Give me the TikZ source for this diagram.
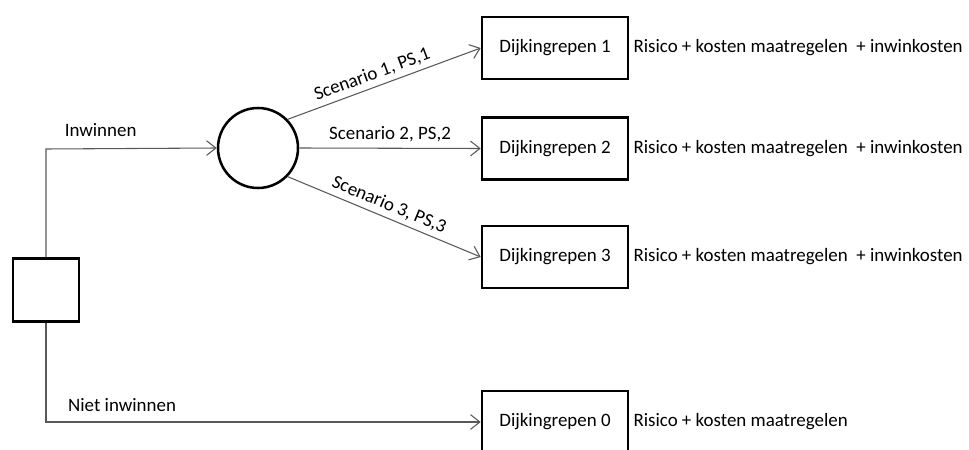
\documentclass[tikz,border=0pt]{standalone}
\usepackage{fontspec}
\setmainfont{Carlito}
\usepackage{xcolor}
\usepackage{tikz}
\usetikzlibrary{arrows.meta}
\usetikzlibrary{shapes}

\tikzset{
  beslis/.style = {draw, line width=1.9pt, minimum width=49.5pt, minimum height=47pt, inner sep=0pt},
  kans/.style = {draw, circle, line width=1.9pt, minimum size=60pt, inner sep=0pt},
  uitkomst/.style = {draw, line width=1.9pt, minimum width=109.5pt, minimum height=46.5pt, inner sep=0pt},
  tak/.style = {draw=black!65, line width=0.8pt, -{Straight Barb[length=7pt, width=11pt, line width=0.8pt]}},
  kosten/.style = {anchor=west, inner sep=0pt},
}

\begin{document}
\begin{tikzpicture}[x=0.75pt, y=-0.75pt, font=\fontsize{14.2}{17}\selectfont]
            \useasboundingbox (0, 0) rectangle (969, 449);
            \clip (0, 0) rectangle (969, 449);

            % beslissing en kansknoop
            \node[beslis] (keuze) at (46, 290) {};
            \node[kans] (kans) at (258, 148) {};

            % dijkingrepen
            \node[uitkomst] (ingreep1) at (555, 48) {Dijkingrepen 1};
            \node[uitkomst] (ingreep2) at (555, 148.5) {Dijkingrepen 2};
            \node[uitkomst] (ingreep3) at (555, 257) {Dijkingrepen 3};
            \node[uitkomst] (ingreep0) at (555, 422) {Dijkingrepen 0};

            \coordinate (hoekboven) at (46, 149);
            \coordinate (hoekonder) at (46, 422);

            \draw[tak] (keuze.north) -- (hoekboven)
                -- node[pos=0.32, above=5pt] {Inwinnen} (kans.west);
            \draw[tak] (keuze.south) -- (hoekonder)
                -- node[pos=0.175, above=4pt] {Niet inwinnen} (ingreep0.west);

            \draw[tak] (kans.44) -- node[sloped, above, pos=0.46] {Scenario 1, PS,1} (ingreep1.west);
            \draw[tak] (kans.east) -- node[above=1pt] {Scenario 2, PS,2} (ingreep2.west);
            \draw[tak] (kans.-44) -- node[sloped, above, pos=0.5] {Scenario 3, PS,3} (ingreep3.west);

            % kosten
            \node[kosten] (kosten1) at ([xshift=3pt]ingreep1.east) {Risico + kosten maatregelen\ \ + inwinkosten};
            \node[kosten] (kosten2) at ([xshift=3pt]ingreep2.east) {Risico + kosten maatregelen\ \ + inwinkosten};
            \node[kosten] (kosten3) at ([xshift=3pt]ingreep3.east) {Risico + kosten maatregelen\ \ + inwinkosten};
            \node[kosten] (kosten0) at ([xshift=3pt]ingreep0.east) {Risico + kosten maatregelen};
        \end{tikzpicture}
\end{document}
